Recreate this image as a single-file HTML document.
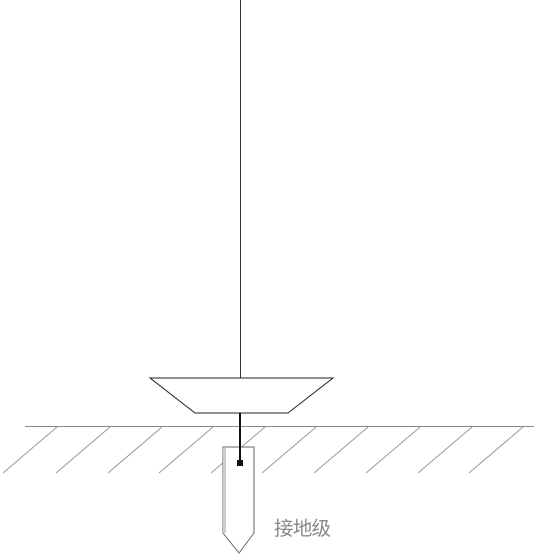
<!DOCTYPE html>
<html><head><meta charset="utf-8"><style>
html,body{margin:0;padding:0;background:#fff;}
svg{display:block;}
</style></head><body>
<svg width="534" height="556" viewBox="0 0 534 556">
  <line x1="240.5" y1="0" x2="240.5" y2="378" stroke="#333" stroke-width="1"/>
  <polygon points="150,378 333,378 288,413 195,413" fill="#fff" stroke="#222" stroke-width="1"/>
  <line x1="25" y1="426.5" x2="534" y2="426.5" stroke="#888" stroke-width="1"/>
  <g id="hatch" stroke="#999" stroke-width="1"></g>
  <polygon points="223,447 254,447 254,533 239,553 223,533" fill="#fff" stroke="#666" stroke-width="1"/>
  <line x1="224.5" y1="448" x2="224.5" y2="533" stroke="#ccc" stroke-width="3"/>
  <line x1="240" y1="413" x2="240" y2="463" stroke="#111" stroke-width="2"/>
  <rect x="237" y="460" width="6" height="6" fill="#111"/>
  <text x="274" y="535" font-family="'Liberation Sans','Noto Sans CJK SC',sans-serif" font-size="19.5" fill="#888" textLength="57">接地级</text>
</svg>
<script>
var tops=[57,110,162,213,265,316,368,420,472,523];
var g=document.getElementById('hatch');
tops.forEach(function(x){
  var l=document.createElementNS('http://www.w3.org/2000/svg','line');
  
  
  l.setAttribute('x1',x);l.setAttribute('y1',427);
  l.setAttribute('x2',x-54);l.setAttribute('y2',473);
  g.appendChild(l);
});
</script>
</body></html>
